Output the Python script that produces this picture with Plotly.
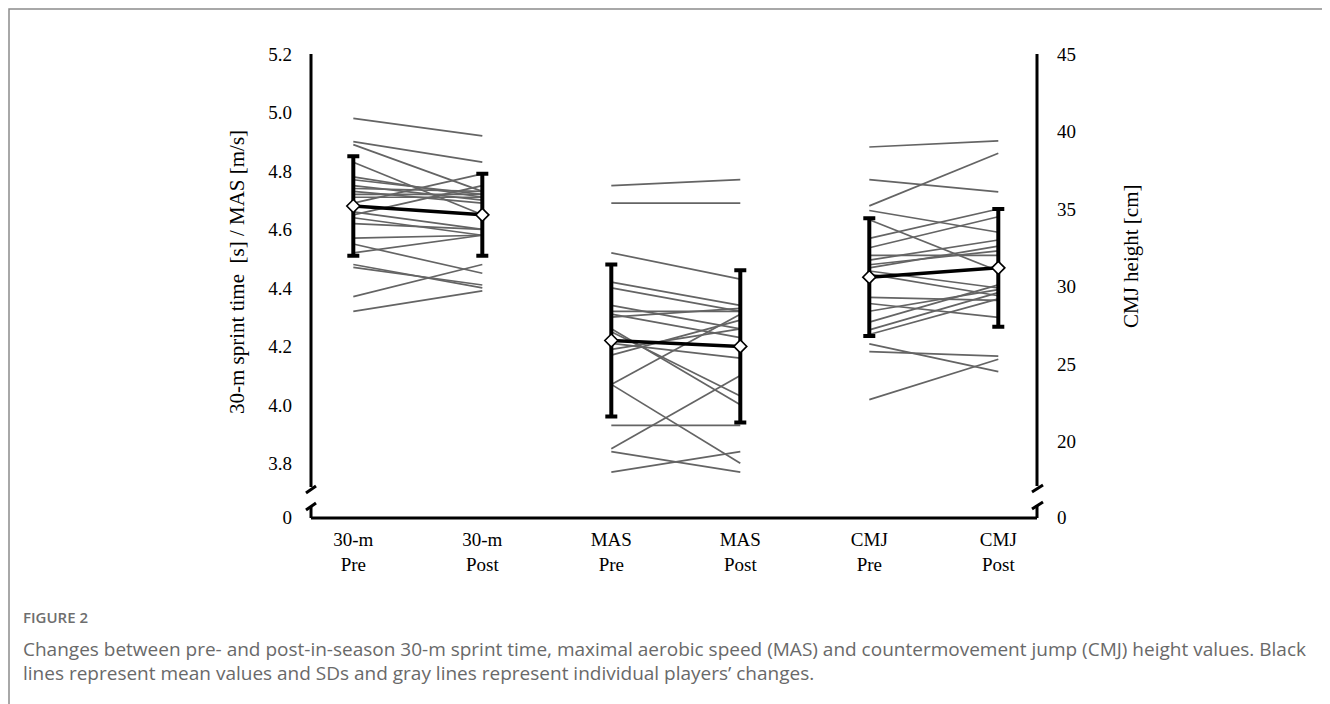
import plotly.graph_objects as go

# ---------------- data ----------------
categories = ["30-m<br>Pre", "30-m<br>Post", "MAS<br>Pre", "MAS<br>Post", "CMJ<br>Pre", "CMJ<br>Post"]

sprint_pre = [4.98, 4.90, 4.89, 4.83, 4.78, 4.77, 4.75, 4.74, 4.73, 4.72, 4.71, 4.69,
              4.66, 4.65, 4.64, 4.62, 4.57, 4.55, 4.52, 4.48, 4.47, 4.37, 4.32]
sprint_post = [4.92, 4.83, 4.73, 4.65, 4.71, 4.72, 4.70, 4.73, 4.69, 4.72, 4.71, 4.79,
               4.60, 4.75, 4.58, 4.60, 4.58, 4.45, 4.58, 4.40, 4.41, 4.48, 4.39]

mas_pre = [4.75, 4.69, 4.52, 4.42, 4.40, 4.34, 4.32, 4.31, 4.30, 4.26, 4.25, 4.21,
           4.19, 4.17, 4.07, 4.07, 3.93, 3.85, 3.84, 3.77]
mas_post = [4.77, 4.69, 4.43, 4.34, 4.32, 4.26, 4.32, 4.23, 4.33, 4.00, 4.03, 4.16,
            4.26, 4.29, 4.31, 3.80, 3.93, 4.10, 3.77, 3.84]

cmj_pre = [39.0, 36.9, 35.2, 34.9, 34.3, 33.1, 32.5, 32.0, 31.7, 31.4, 31.2, 31.0,
           30.8, 29.3, 28.9, 28.4, 27.7, 27.2, 26.9, 26.3, 25.8, 22.7]
cmj_post = [39.4, 36.1, 38.6, 33.5, 31.0, 35.0, 34.5, 32.0, 33.0, 32.3, 32.6, 29.9,
            29.4, 29.1, 28.0, 29.8, 30.1, 29.6, 29.2, 24.5, 25.5, 25.3]

sprint_mean = [4.68, 4.65]
sprint_sd = [0.17, 0.14]
mas_mean = [4.22, 4.20]
mas_sd = [0.26, 0.26]
cmj_mean = [30.6, 31.2]
cmj_sd = [3.8, 3.8]

left_ticks = [5.2, 5.0, 4.8, 4.6, 4.4, 4.2, 4.0, 3.8]
right_ticks = [45, 40, 35, 30, 25, 20]

# ---------------- layout geometry (page pixel coords, page has 8px body margin) ----------------
OFF = 8
W, H = 1330, 704
PLOT_L, PLOT_R, PLOT_T, PLOT_B = 311, 1037, 54, 518   # page coords
L = PLOT_L - OFF
T = PLOT_T - OFF
R = W - (PLOT_R - OFF)
B = H - (PLOT_B - OFF)
PW, PH = PLOT_R - PLOT_L, PLOT_B - PLOT_T
Y_LEFT_RANGE = [3.613, 5.2]
Y_RIGHT_RANGE = [15.06, 45]
X_RANGE = [-0.328, 5.30]


def px(x, y):
    """page pixel -> paper coords"""
    return (x - PLOT_L) / PW, (PLOT_B - y) / PH


def pairs(xa, xb, a, b):
    xs, ys = [], []
    for u, v in zip(a, b):
        xs += [xa, xb, None]
        ys += [u, v, None]
    return xs, ys


GRAY = "rgb(100,100,100)"
fig = go.Figure()

for (xa, xb, a, b, ax) in [(0, 1, sprint_pre, sprint_post, "y"),
                           (2, 3, mas_pre, mas_post, "y"),
                           (4, 5, cmj_pre, cmj_post, "y2")]:
    xs, ys = pairs(xa, xb, a, b)
    fig.add_trace(go.Scatter(x=xs, y=ys, mode="lines", yaxis=ax,
                             line=dict(color=GRAY, width=1.7),
                             hoverinfo="skip", showlegend=False))

for (xs, m, sd, ax) in [([0, 1], sprint_mean, sprint_sd, "y"),
                        ([2, 3], mas_mean, mas_sd, "y"),
                        ([4, 5], cmj_mean, cmj_sd, "y2")]:
    fig.add_trace(go.Scatter(
        x=xs, y=m, mode="lines+markers", yaxis=ax,
        line=dict(color="black", width=3.5),
        marker=dict(symbol="diamond", size=10, color="white",
                    line=dict(color="black", width=1.6)),
        error_y=dict(type="data", array=sd, visible=True,
                     color="black", thickness=4, width=6),
        showlegend=False))

SERIF = "Liberation Serif, Times New Roman, serif"

fig.update_layout(
    width=W, height=H,
    margin=dict(l=L, r=R, t=T, b=B),
    paper_bgcolor="white", plot_bgcolor="white",
    font=dict(family=SERIF, size=19, color="black"),
    xaxis=dict(range=X_RANGE, tickvals=list(range(6)), ticktext=categories,
               showgrid=False, zeroline=False, showline=False, ticks="",
               tickfont=dict(family=SERIF, size=19), ticklabelstandoff=8),
    yaxis=dict(range=Y_LEFT_RANGE,
               tickvals=left_ticks + [3.616],
               ticktext=[f"{v:.1f}" for v in left_ticks] + ["0"],
               showgrid=False, zeroline=False, showline=False, ticks="",
               ticklabelstandoff=18, tickfont=dict(family=SERIF, size=19)),
    yaxis2=dict(range=Y_RIGHT_RANGE, overlaying="y", side="right",
                tickvals=right_ticks + [15.1],
                ticktext=[str(v) for v in right_ticks] + ["0"],
                showgrid=False, zeroline=False, showline=False, ticks="",
                ticklabelstandoff=19, tickfont=dict(family=SERIF, size=19)),
)

# axis lines with break marks (page coords)
segs = [
    ((311, 54), (311, 487)), ((306, 493), (316, 486)), ((306, 510), (316, 503)),
    ((311, 506), (311, 518)), ((311, 518), (1037, 518)),
    ((1037, 54), (1037, 486)), ((1032, 492), (1043, 485)), ((1032, 509), (1043, 502)),
    ((1037, 505), (1037, 518)),
]
for (a, b) in segs:
    x0, y0 = px(*a)
    x1, y1 = px(*b)
    fig.add_shape(type="line", xref="paper", yref="paper", x0=x0, y0=y0, x1=x1, y1=y1,
                  line=dict(color="black", width=3))

# frame around the figure (as close to the page edge as the figure allows)
fx0, fy0 = px(OFF + 1, OFF + 1)
fx1, fy1 = px(1328, 716)
fig.add_shape(type="rect", xref="paper", yref="paper", x0=fx0, y0=fy0, x1=fx1, y1=fy1,
              line=dict(color="rgb(140,140,140)", width=1.5), layer="below")

# axis titles
ax_, ay_ = px(237, 272)
fig.add_annotation(xref="paper", yref="paper", x=ax_, y=ay_,
                   text="30-m sprint time\u00a0 [s] / MAS [m/s]",
                   textangle=-90, showarrow=False, font=dict(family=SERIF, size=21),
                   xanchor="center", yanchor="middle")
ax_, ay_ = px(1131, 257)
fig.add_annotation(xref="paper", yref="paper", x=ax_, y=ay_, text="CMJ height [cm]",
                   textangle=-90, showarrow=False, font=dict(family=SERIF, size=21),
                   xanchor="center", yanchor="middle")

# caption
SANS = "Open Sans, Noto Sans, sans-serif"
cx, cy = px(21, 617)
fig.add_annotation(xref="paper", yref="paper", x=cx, y=cy, text="FIGURE 2", showarrow=False,
                   xanchor="left", yanchor="middle",
                   font=dict(family=SANS, size=15, color="rgb(110,110,110)", weight=600))
for (y, txt) in [
    (649, "Changes between pre- and post-in-season 30-m sprint time, maximal aerobic speed (MAS) and countermovement jump (CMJ) height values. Black"),
    (673, "lines represent mean values and SDs and gray lines represent individual players\u2019 changes."),
]:
    cx, cy = px(21, y)
    fig.add_annotation(xref="paper", yref="paper", x=cx, y=cy, text=txt, showarrow=False,
                       xanchor="left", yanchor="middle",
                       font=dict(family=SANS, size=19, color="rgb(105,105,105)"))

fig.write_html("out.html")
